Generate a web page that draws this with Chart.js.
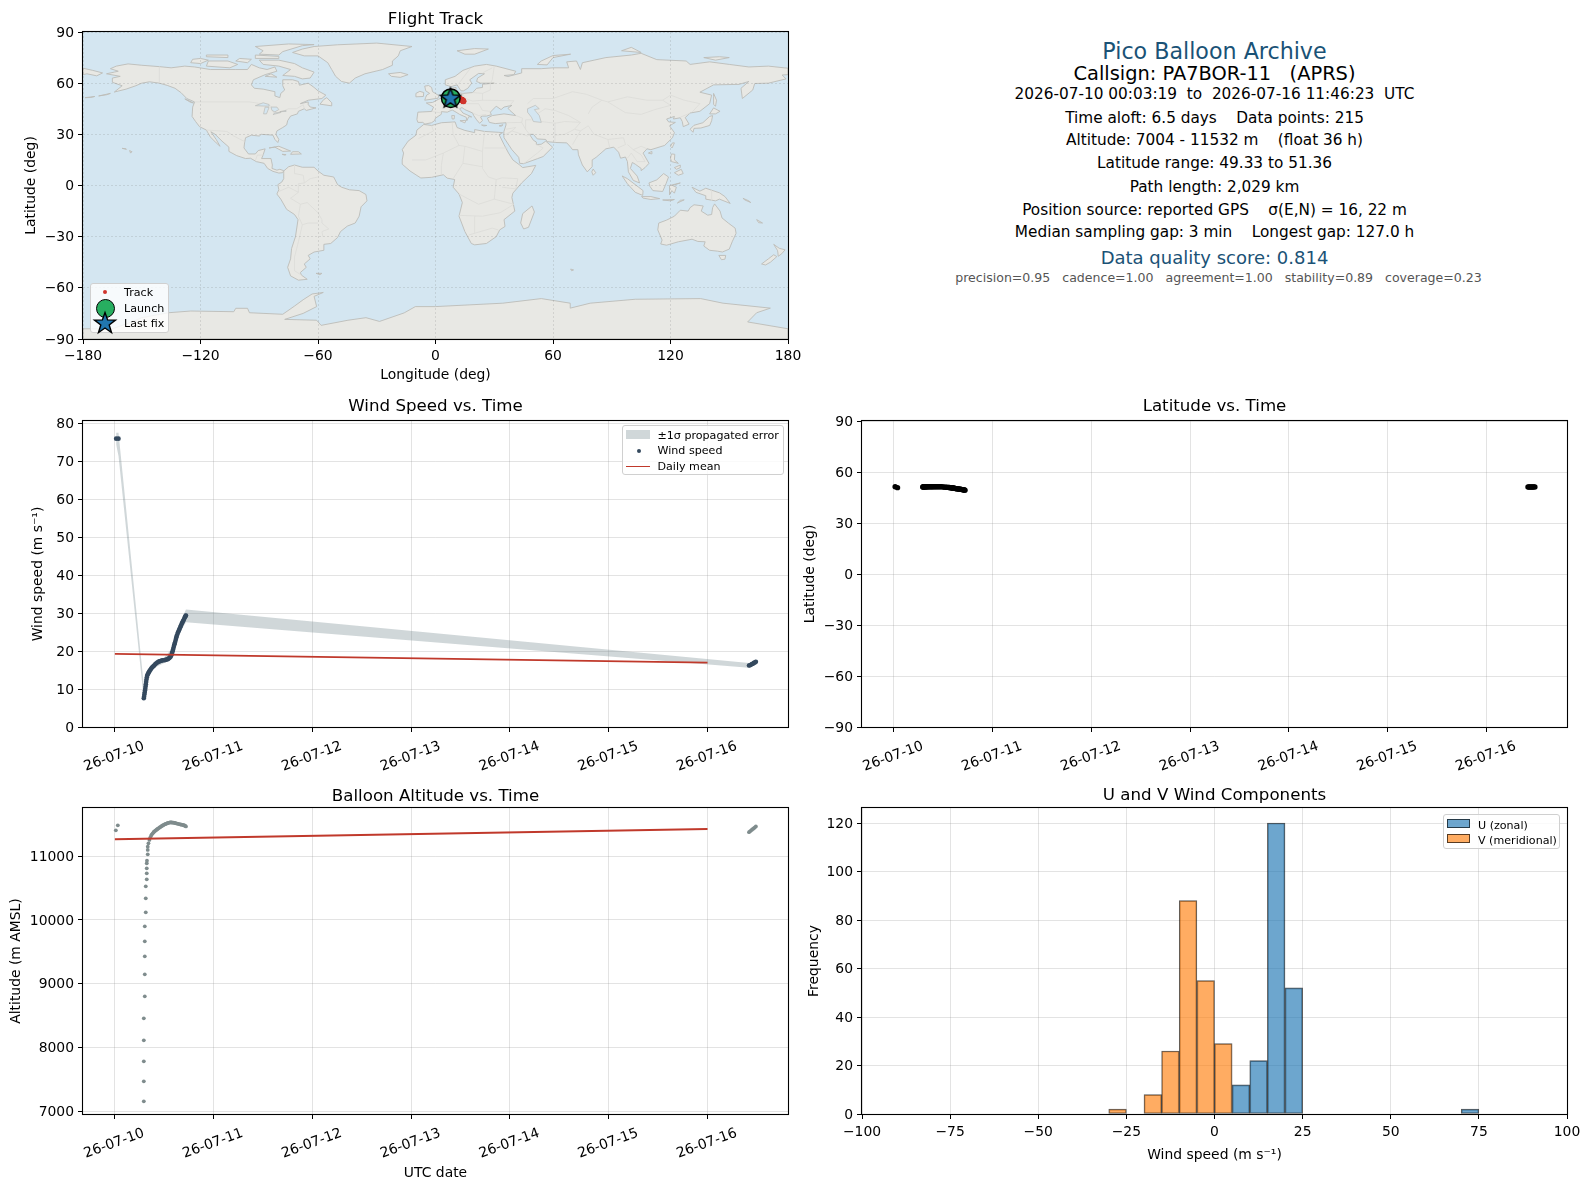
<!DOCTYPE html>
<html>
<head>
<meta charset="utf-8">
<title>Pico Balloon Archive</title>
<script src="https://cdn.jsdelivr.net/npm/chart.js@4"></script>
<style>
  html, body { margin: 0; padding: 0; background: #fff; }
  body { position: relative; width: 1589px; height: 1189px; overflow: hidden; font-family: "DejaVu Sans", sans-serif; }
  canvas { position: absolute; }
  .info { position: absolute; left: 862px; width: 705px; text-align: center; white-space: pre; transform: translateY(-50%); color: #000; }
  .legend { position: absolute; background: rgba(255,255,255,.8); border: 1px solid #d0d0d0; border-radius: 3px; box-sizing: border-box; font-size: 11.1px; color: #000; }
  .legend span { position: absolute; white-space: pre; transform: translateY(-50%); }
  .legend i, .legend svg { position: absolute; display: block; box-sizing: border-box; }
</style>
</head>
<body>
<canvas id="c-map" style="left:0;top:8px" width="822" height="381"></canvas>
<canvas id="c-wind" style="left:0;top:397px" width="822" height="400"></canvas>
<canvas id="c-lat" style="left:800px;top:397px" width="789" height="400"></canvas>
<canvas id="c-alt" style="left:0;top:784px" width="822" height="400"></canvas>
<canvas id="c-hist" style="left:800px;top:784px" width="789" height="380"></canvas>
<div id="overlay"></div>
<script>
// ---- text panel
const infoLines = [
  'Pico Balloon Archive',
  'Callsign: PA7BOR-11   (APRS)',
  '2026-07-10 00:03:19  to  2026-07-16 11:46:23  UTC',
  'Time aloft: 6.5 days    Data points: 215',
  'Altitude: 7004 - 11532 m    (float 36 h)',
  'Latitude range: 49.33 to 51.36',
  'Path length: 2,029 km',
  'Position source: reported GPS    σ(E,N) = 16, 22 m',
  'Median sampling gap: 3 min    Longest gap: 127.0 h',
  'Data quality score: 0.814',
  'precision=0.95   cadence=1.00   agreement=1.00   stability=0.89   coverage=0.23',
]

// ---- time axis
const dayLabels = ['26-07-10', '26-07-11', '26-07-12', '26-07-13', '26-07-14', '26-07-15', '26-07-16']

// ---- wind speed (days since 26-07-10 00:00 UTC)
const fixDays = [
  0.013, 0.037,
  .293, .296, .299, .302, .305, .308, .311, .314, .317, .320,
  .324, .328, .333, .339, .345, .352, .360, .368, .376, .384,
  .392, .400, .410, .420, .430, .440, .451, .462, .473, .485,
  .500, .512, .524, .536, .548, .556, .563, .569, .575, .579,
  .584, .589, .594, .599, .603, .608, .613, .618, .622, .626,
  .632, .638, .644, .650, .656, .662, .668, .674, .680, .686,
  .692, .698, .704, .710, .716, .720,
  6.42, 6.43, 6.44, 6.45, 6.46, 6.47, 6.48, 6.49,
]
const windSpeeds = [
  76.05, 76.05,
  7.6, 8.0, 8.6, 9.1, 9.6, 10.1, 10.7, 11.3, 11.9, 12.5,
  13.1, 13.6, 13.9, 14.2, 14.5, 14.8, 15.1, 15.4, 15.7, 15.9,
  16.1, 16.3, 16.6, 16.8, 17.0, 17.2, 17.3, 17.4, 17.5, 17.6,
  17.6, 17.7, 17.8, 17.9, 18.1, 18.3, 18.5, 18.8, 19.1, 19.5,
  19.9, 20.4, 20.9, 21.4, 21.8, 22.2, 22.7, 23.2, 23.6, 24.0,
  24.4, 24.9, 25.2, 25.6, 25.9, 26.3, 26.7, 27.0, 27.4, 27.7,
  28.0, 28.3, 28.7, 29.0, 29.3, 29.4,
  16.2, 16.3, 16.4, 16.6, 16.7, 16.9, 17.0, 17.2,
]
const bandDays = [0.013, 0.037, .293, .33, .40, .50, .58, .65, .72, 6.42, 6.49]
const bandUpper = [77.6, 77.6, 11.0, 15.0, 17.0, 18.3, 20.8, 27.0, 31.0, 16.9, 17.9]
const bandLower = [74.5, 71.5, 7.4, 13.0, 15.6, 16.9, 18.0, 24.5, 27.6, 15.6, 16.6]
const meanDays = [0, 6]
const meanWind = [19.3, 17.0]

// ---- latitude and longitude, same fixes as fixDays
const fixLats = [
  51.3, 50.8,
  51.2, 51.2, 51.25, 51.3, 51.3, 51.3, 51.3, 51.3, 51.3, 51.3,
  51.3, 51.36, 51.36, 51.36, 51.36, 51.36, 51.36, 51.36, 51.36, 51.36,
  51.36, 51.36, 51.35, 51.35, 51.35, 51.34, 51.34, 51.33, 51.32, 51.3,
  51.2, 51.1, 51.05, 51.0, 50.95, 50.9, 50.85, 50.8, 50.8, 50.75,
  50.7, 50.65, 50.6, 50.55, 50.5, 50.45, 50.4, 50.35, 50.3, 50.25,
  50.2, 50.15, 50.1, 50.05, 50.0, 49.95, 49.9, 49.85, 49.8, 49.7,
  49.65, 49.6, 49.5, 49.45, 49.38, 49.33,
  51.2, 51.2, 51.2, 51.22, 51.22, 51.22, 51.24, 51.24,
]
const fixLons = [
  7.6, 7.9,
  8.0, 8.0, 8.1, 8.2, 8.2, 8.3, 8.3, 8.4, 8.5, 8.5,
  8.6, 8.7, 8.8, 8.9, 9.0, 9.1, 9.2, 9.3, 9.4, 9.5,
  9.6, 9.7, 9.9, 10.0, 10.2, 10.3, 10.5, 10.7, 10.9, 11.1,
  11.3, 11.5, 11.7, 11.8, 12.0, 12.1, 12.2, 12.3, 12.4, 12.5,
  12.6, 12.7, 12.8, 12.9, 13.0, 13.1, 13.2, 13.3, 13.4, 13.4,
  13.5, 13.6, 13.7, 13.7, 13.8, 13.8, 13.9, 13.9, 14.0, 14.0,
  14.1, 14.1, 14.2, 14.2, 14.3, 14.3,
  7.3, 7.3, 7.4, 7.4, 7.4, 7.5, 7.5, 7.5,
]
const launchFix = [7.8, 51.2]
const lastFix = [7.6, 51.3]

// ---- altitude
const altDays = [
  0.010, 0.030,
  .293, .293, .293, .293, .293, .303, .303, .303, .303, .303,
  .313, .313, .313, .323, .323, .323, .323, .325, .333, .333,
  .333, .340, .350, .358, .367, .375, .384, .392, .400, .410,
  .418, .425, .433, .441, .450, .458, .467, .475, .483, .492,
  .500, .508, .516, .524, .532, .540, .552, .560, .568, .576,
  .586, .595, .605, .612, .620, .630, .640, .653, .665, .676,
  .687, .697, .705, .712, .720,
  6.42, 6.43, 6.44, 6.45, 6.46, 6.47, 6.48, 6.49,
]
const altMeters = [
  11408, 11487,
  7152, 7466, 7780, 8110, 8455, 8801, 9146, 9429, 9665, 9900,
  10120, 10340, 10529, 10639, 10733, 10812, 10890, 10932, 11031, 11100,
  11152, 11204, 11257, 11295, 11325, 11345, 11361, 11378, 11390, 11403,
  11412, 11421, 11431, 11440, 11450, 11458, 11467, 11476, 11484, 11491,
  11498, 11505, 11510, 11515, 11520, 11525, 11530, 11532, 11532, 11531,
  11530, 11528, 11525, 11522, 11518, 11514, 11510, 11505, 11500, 11497,
  11494, 11490, 11484, 11478, 11470,
  11380, 11392, 11405, 11418, 11430, 11442, 11456, 11470,
]
const altTicks = [7000, 8000, 9000, 10000, 11000]
const meanAlt = [11270, 11430]

// ---- histogram
const uBins = [7.5, 12.5, 17.5, 22.5, 72.5]
const uCounts = [12, 22, 120, 52, 2]
const vBins = [-27.5, -17.5, -12.5, -7.5, -2.5, 2.5]
const vCounts = [2, 8, 26, 88, 55, 29]

// ---- map outlines (lon, lat)
const landNorthAmerica = [[-168,65.5],[-164,66.5],[-162,67],[-166,68.5],[-163,70],[-157,71.3],[-150,70.5],[-141,69.7],[-135,69],[-128,70],[-123,69.5],[-115,68],[-108,68],[-102,68],[-96,68],[-94,71],[-90,69],[-86,68],[-82,69.5],[-81,67],[-87,65],[-93,62],[-94,59],[-92.5,57],[-88,56.5],[-82,55],[-82,52.5],[-79.5,51.5],[-79,54],[-77,56],[-78,58.5],[-78,62],[-73,62],[-70,61],[-69.5,58.8],[-65,60],[-62,57.5],[-60,55.5],[-56,53],[-58,51],[-65,50],[-69,48],[-65,49],[-65,47.5],[-64,46],[-61,45.5],[-66,44],[-67,45],[-70,43.5],[-70.5,42],[-74,40.7],[-75.5,38],[-76,35.5],[-78,34],[-81,32],[-81.5,30],[-80,27],[-80.5,25.2],[-82,27],[-83,29.5],[-85,29.7],[-89,30],[-90,29],[-94,29.5],[-97,28],[-97.5,25],[-97.8,22],[-95.5,18.5],[-92,18.5],[-90.5,20.5],[-87,21.5],[-88,18],[-88.8,15.8],[-84,15.8],[-83.3,12],[-83.5,10],[-81,9],[-79.5,9.5],[-77.5,8.7],[-78,7.5],[-80,7.3],[-83,8.3],[-85.7,10],[-87.5,13],[-91.5,14],[-94.5,16],[-97,15.8],[-101.5,17.5],[-105.5,20],[-105.5,22.5],[-109,26],[-112.5,30],[-114.7,31.5],[-112,27],[-110,23],[-112,25],[-115,28.5],[-117,32.5],[-120.5,34.5],[-122.5,37.5],[-124.3,40.5],[-124,46],[-123,49],[-127,51],[-130,54.5],[-133,57],[-137,58.7],[-141,60],[-146,60.8],[-150,60],[-153,58.5],[-158,56.5],[-164,54.8],[-160,58.5],[-165,60.5],[-165,63],[-161,64]]
const landGreenland = [[-73,78],[-67,76],[-60,76],[-55,72],[-53,68],[-51,64],[-48,61],[-44,60],[-41,63],[-36,65.5],[-27,68],[-22,70.5],[-22,73],[-19,76],[-18,79],[-12,81.5],[-30,83.5],[-50,82.5],[-62,81.5],[-68,80]]
const landSouthAmerica = [[-77.5,8.5],[-75,11],[-72,12],[-68,10.7],[-62,10.7],[-60,8.5],[-57,6],[-52,5],[-50,0.5],[-48,-1],[-44,-2.5],[-39,-3],[-35.5,-5.3],[-35,-9],[-38,-12.5],[-39,-18],[-41,-22],[-45,-23.8],[-48.5,-27],[-50,-30.5],[-53.5,-34],[-57,-34.5],[-57,-38],[-62,-39],[-65,-41],[-64,-43],[-67,-46],[-66,-48],[-69,-51],[-68.5,-52.5],[-65.5,-55],[-70,-55.5],[-74,-53],[-75.5,-48],[-74,-43],[-73.5,-37],[-71.5,-30],[-70.2,-20],[-72,-17],[-76,-14],[-79,-8],[-81,-5],[-80,-2.5],[-80.5,0.5],[-78.5,2],[-77.5,4],[-77.5,7]]
const landAfrica = [[-6,35.8],[-2,35.2],[3,36.8],[10,37.3],[11,34],[15,32.3],[20,31],[20,32.8],[25,31.7],[32,31.2],[34.3,31],[32.5,29.8],[35,24],[37.3,19],[39.5,15],[43,12],[44.5,10.5],[51.2,11.8],[49,7],[44,1.5],[39.5,-4.5],[39,-7],[40.5,-15],[35,-20],[35.5,-24],[32.8,-26],[31,-30],[26,-34],[20,-34.8],[18.3,-34],[15,-27],[12,-18],[13.7,-10],[12,-5],[9,-1],[9.8,3.5],[6,4.3],[4,6.3],[-2,4.8],[-7.5,4.4],[-13,8.5],[-17,12.5],[-17,15],[-16.3,19],[-17,21],[-14,26],[-10,29.5],[-9.5,32.5]]
const landEurasia = [[-9.5,38.7],[-9,43],[-2,43.4],[-1,46],[-4.7,48.4],[-1.5,48.7],[1.5,50.5],[4,52],[7,53.5],[8.5,55],[8.2,57],[10.5,57.5],[10.5,54.5],[14,54],[19,54.5],[21,57],[24,57.5],[24,59.4],[30,60],[23,60],[21,61],[21.5,63],[25,65.5],[22,65.7],[17.5,62],[18.5,60],[16.5,57],[14.3,55.5],[13,55.5],[11,59],[8,58],[5,59],[5,62],[10,64],[14,67.5],[20,70],[26,71],[31,70],[41,67],[40,65],[35,64.5],[37,63.9],[40,64.8],[44,66],[44,68.5],[54,68.5],[60,69],[68,69],[67,72.5],[72,73],[74,68],[75,72],[81,73.5],[87,75],[100,76.5],[105,77.5],[113,73.8],[128,73],[130,71],[140,72.5],[150,71],[160,69.5],[170,70],[178,69],[180,68.8],[180,65],[177,64.8],[179,62.5],[170,60],[163,59.8],[162,56],[156.7,51],[156,57],[160,61],[155,59.3],[142,59],[135,54.7],[141,53],[140,48],[135,43.5],[130,42.5],[127.5,39.8],[129.5,36],[126.5,34.5],[126,37.5],[125,39.7],[121.5,39],[122,40.5],[118,39],[119,37.3],[122.5,37],[119.5,35],[122,31],[121,28],[117,23.5],[110,21],[108,21.5],[106,19],[109,13],[107,10.5],[105,8.7],[105,10],[102,12.5],[100.5,13.5],[99.5,10],[103,5.5],[104.2,1.5],[101,3],[98.5,8],[98,14],[97,16.7],[94.5,16],[93.5,19.5],[91,22.5],[87,21.5],[82,16.5],[80,15],[80,11],[77.5,8],[75,12],[73,18],[72.7,21],[70,21],[69,22.5],[67,25],[61.5,25.2],[57,25.7],[56.3,27],[52,27.3],[50,30],[48,30],[50,26.5],[51.5,25.5],[51.5,24],[54,24.2],[56.3,26],[59.8,22.5],[55,17],[52,15.7],[45,12.8],[43,13],[42.5,16.5],[39,21],[35,28],[34.9,29.5],[34.9,31.5],[36,35.5],[36,36.8],[30.5,36.3],[27.5,37],[26.5,39.5],[29,41],[35,42],[41,41],[38,44],[37,45.3],[39,47],[35,46],[33.5,44.5],[31,46.5],[28,43],[28.5,41.5],[26,40.7],[24,40.7],[23,40.2],[24,38],[22.5,36.5],[21,38.5],[19.5,41],[19,42.5],[15,44.5],[13.5,45.7],[12.3,45],[14,42.5],[18.5,40.2],[17,40.4],[16,38],[15.7,40],[12.3,41.7],[10.5,43],[8.5,44.3],[6,43],[3,43.3],[3,41.8],[0,39.5],[-0.5,38],[-2,36.8],[-5.4,36],[-6.5,37],[-9,37]]
const landChukotkaWest = [[-180,68.8],[-175,67.5],[-170,66],[-173,64.3],[-178,65.5],[-180,65]]
const landAustralia = [[114,-22],[113.5,-26],[115.7,-32],[115,-34.3],[118,-35],[124,-33],[131,-31.5],[134,-32.8],[137.7,-33],[137,-35.5],[140,-38],[144,-38.5],[146.5,-39],[150,-37.3],[151.5,-33],[153.5,-28],[153,-25],[149.5,-22],[146.3,-19],[145.3,-15],[142.5,-10.8],[141.5,-13],[141,-17],[139,-17.4],[135.7,-15],[136.7,-12],[132,-11.3],[130,-13],[129,-15],[125,-14.5],[122,-18],[118,-20.3]]
const landAntarctica = [[-180,-84],[-165,-84],[-155,-80],[-150,-77.5],[-136.4,-74.6],[-125,-73.6],[-103,-74],[-102,-72],[-96,-72],[-95,-74.6],[-78,-75.5],[-72,-70.7],[-67.6,-67],[-63,-63.6],[-57.3,-62.7],[-62,-65],[-60.7,-71],[-67.6,-75],[-77,-78.5],[-60.7,-79],[-58.4,-82],[-44.7,-79],[-35.5,-77.5],[-28.6,-79.7],[-16,-74.7],[-10.3,-71],[0,-71],[17.2,-70],[34.4,-69],[54,-66.3],[68.8,-69],[68.8,-71.9],[79,-69],[102,-66.7],[135.4,-66.3],[146.8,-69],[171,-71.9],[164,-74.6],[159.4,-80],[180,-84],[180,-90],[-180,-90]]
const landIslands = [
  [[-80,73.5],[-72,71.5],[-68,69],[-62,66.5],[-64,63],[-68,62.5],[-72,64],[-78,64.5],[-74,68],[-80,70],[-88,71],[-90,73.5]],
  [[-117,70],[-105,69],[-101,71],[-106,73],[-116,73]],
  [[-125,72],[-120,71.5],[-116,73.5],[-120,74.5],[-124,74]],
  [[-90,77],[-80,76.5],[-78,78.5],[-68,82],[-62,82.6],[-75,83],[-92,81.5],[-88,79]],
  [[-92,74.5],[-80,74.5],[-80,75.7],[-92,76.5]],
  [[-102,73],[-96,72],[-94,74],[-100,74.5]],
  [[-117,75.5],[-106,75],[-106,76.5],[-117,76.5]],
  [[-87,64],[-81,63.5],[-84,65.5]],
  [[-59,47.7],[-53,46.7],[-53,48.5],[-55.5,51.5],[-57,50.5]],
  [[-128,50.8],[-123.5,48.4],[-125,48.7]],
  [[-85,22],[-80,23],[-74,20.2],[-78,20],[-82,22.5]],
  [[-74,18.3],[-68.5,18.5],[-70,19.8],[-73,19.8]],
  [[-78.3,18.3],[-76.3,18.1],[-77,17.8]],
  [[-156.2,20.5],[-155,19.8],[-155.7,19]],
  [[-160,21.8],[-158,21.5],[-157.8,21.2],[-159,21.5]],
  [[-61,-51.5],[-58,-51.5],[-59,-52.3]],
  [[49.3,-12],[50.5,-15.5],[47.5,-24.5],[45,-25.5],[43.5,-22],[44.5,-16.5]],
  [[-5.5,50],[1.3,51.2],[1.7,52.7],[-1.5,55],[-2,57.5],[-3.5,58.6],[-5.5,58.3],[-5,55.5],[-3,54],[-4.5,53],[-5,51.7]],
  [[-10,52],[-6.2,52.2],[-6,54.5],[-8,55.2],[-10,54]],
  [[-24,65.5],[-18,66.3],[-14,65],[-18,63.4],[-22.5,64]],
  [[11,79],[20,80.3],[27,80],[20,77],[15,77]],
  [[52,71],[57,70.7],[60,75],[69,77],[60,76.2],[54,73]],
  [[95,79],[105,78],[100,81]],
  [[137,75],[145,75.5],[150,75],[143,73.5]],
  [[142,54],[143.5,50],[143,46.5],[142,47.5],[142,52]],
  [[130,33],[131.5,31.2],[132,33.5],[135.5,33.7],[140,35.2],[141,38],[141.5,41],[140,40.5],[136.5,36.8],[132,35.3]],
  [[140,42],[142,45.5],[145.3,43.5],[143,42]],
  [[120,23],[121,25],[122,25],[120.8,22]],
  [[108.7,19],[110.5,20],[110.5,18.5]],
  [[120,16],[120.5,18.5],[122.2,18.3],[122,15],[124,13],[120.5,14]],
  [[122,7.5],[125.5,9.5],[126.5,7],[124,6]],
  [[122,10.5],[125,12],[125,10.5],[123,9.5]],
  [[109,1.5],[113,3.3],[116.5,7],[119,5],[117.7,1],[116,-3.5],[111,-3],[109.5,-0.5]],
  [[95.3,5.6],[98,4],[103.5,-0.8],[106,-3],[105.8,-5.8],[102,-4],[98,1]],
  [[105.2,-6.5],[110,-6.5],[114.5,-7.7],[110,-8.2],[106,-7.4]],
  [[119.5,-5.5],[119.5,0],[125,1.5],[121,0],[123,-1],[122,-4.5],[120.7,-3]],
  [[131,-1],[135,-3.3],[138,-1.6],[145,-4.3],[147.8,-6.5],[150.5,-10.5],[145,-8],[143,-9],[138,-8],[138,-6],[133,-4]],
  [[123.5,-10.3],[127,-8.4],[125,-8.7]],
  [[116,-8.5],[122,-8.2],[120,-9]],
  [[79.8,8],[80.5,9.7],[81.8,7.5],[80.5,6]],
  [[144.7,-41],[148.2,-41],[147.8,-43.2],[146,-43.5]],
  [[172.7,-34.5],[175.5,-36.8],[178.5,-37.7],[176.8,-40],[175,-41.5],[174.8,-39],[174.6,-38]],
  [[172.7,-40.6],[174.3,-41.7],[171,-45],[168.5,-46.6],[166.5,-46],[170,-43]],
  [[164,-20],[167,-22],[165,-21.8]],
  [[157,-7.5],[160,-9],[161,-10],[158,-8.5]],
  [[69,-49],[70.5,-49.5],[69.5,-50]],
  [[12.5,38],[15.5,38.2],[15,36.7]],
  [[8.3,41],[9.7,41],[9.5,39],[8.5,39]],
  [[23.5,35.5],[26.2,35.2],[24.7,34.9]],
  [[32.5,35],[34.5,35.6],[33.5,34.7]],
  [[-172,52.5],[-166,54],[-168,53.2]],
  [[-179,51.5],[-174,52.2],[-176,51.6]],
]
const waterBodies = [
  [[47,45],[51,47],[53,45],[50.5,44.5],[53,41],[54,37],[50,37.5],[49,40],[47,43]],
  [[-92,46.8],[-88,48.5],[-85,47.5],[-85,46.5],[-88,46.6]],
  [[-87.8,42],[-87,46],[-85,45.7],[-86.3,42]],
  [[-84,46],[-81,46],[-80,44.5],[-82,43.2],[-83.5,44]],
  [[-83,41.6],[-79,42.8],[-79,43],[-82,42.5]],
  [[-79.5,43.3],[-76.3,44],[-76.3,43.4]],
]
const borderLines = [
  [[-141,69.7],[-141,60]],
  [[-123,49],[-95,49],[-89,48],[-84,46.5],[-82.5,42.5],[-79,43],[-75,45],[-71,45],[-67.5,47.3],[-67,45]],
  [[-117,32.5],[-106.5,31.7],[-103,29],[-97.5,25.8]],
  [[-92,14.5],[-91,17.8],[-89,17.8],[-88,18]],
  [[-70,-18],[-69,-11],[-74,-7.5],[-70,-4],[-70,1],[-67,1.5],[-64,4],[-60,5]],
  [[-57.5,-30],[-58,-27],[-54.5,-25.5],[-58,-22],[-58,-20],[-60,-16],[-65.5,-10],[-69,-11]],
  [[-70,-18],[-68,-23],[-70,-33],[-72,-42],[-72,-50],[-68.5,-52.5]],
  [[-72,12],[-72,7],[-67.5,6],[-67,1.5]],
  [[-80,-3.5],[-75,-1],[-70,-4]],
  [[-60,-22],[-65,-22],[-68,-23]],
  [[-8.7,27.5],[-1,32],[-2,35]],
  [[8.5,37],[9,30],[12,23.5],[15,23],[24,20],[25,31.7]],
  [[25,22],[37,22]],
  [[24,20],[24,10],[27,5],[31,3.5],[34,4.5],[42,4],[41,-2]],
  [[-12,15],[-5,15],[4,19],[12,23.5]],
  [[4,19],[3,12],[3,6.3]],
  [[14,13],[24,11]],
  [[14,13],[9,4]],
  [[14,13],[15,23]],
  [[12,-5],[22,-11],[30,-8],[31,3.5]],
  [[12,-17.5],[24,-18],[33,-16],[40,-11]],
  [[30,-8],[40,-11]],
  [[20,-28],[20,-18]],
  [[17,-29],[29,-25],[32,-26]],
  [[34,-1],[41,-2]],
  [[-1.8,43.4],[3,42.5]],
  [[2.5,51],[8,49],[7,47.5],[7.5,44]],
  [[7,53.5],[6,50],[8,49]],
  [[14,54],[15,51],[12.5,50],[13,47.5],[7.5,47.5]],
  [[13,47.5],[17,48],[22,48],[24,44],[28,43.5]],
  [[15,51],[19,49.5],[24,50],[24,54],[19,54.5]],
  [[24,54],[28,56],[28,60]],
  [[24,50],[40,49.7],[38,47]],
  [[30,70],[29,62],[28,60]],
  [[24,66],[29,69]],
  [[18,69],[12,60],[11,59]],
  [[22,41],[26,41.7]],
  [[19,42.5],[22,41]],
  [[36,36.8],[44,37],[44.5,39.5],[41,41]],
  [[44,37],[46,33],[48,30]],
  [[36,33],[41,34],[39,32],[34.9,29.5]],
  [[39,32],[47,29],[48,30]],
  [[46,33],[46,38.5]],
  [[61,37],[61,25.2]],
  [[46,38.5],[49,38.5]],
  [[54,37.5],[61,36.5],[66,37.5],[74,37],[71,33],[66,30],[61,29.5]],
  [[71,33],[74,32],[70,24]],
  [[74,32],[78,35],[81,30],[88,27],[96,28],[97,24],[93,22]],
  [[88,27],[89,22]],
  [[78,42],[80,46],[85,50],[88,49],[98,52],[108,50],[116,50],[120,53],[127,50],[135,48],[131,43]],
  [[88,49],[97,42.7],[105,41.7],[112,44.5],[120,47],[116,50]],
  [[52,42],[56,45],[61,44],[68,41],[74,37]],
  [[50,51],[60,51],[70,55],[77,53.5],[85,50]],
  [[47,48],[50,51]],
  [[98,24],[101,21],[105,23],[108,21.5]],
  [[101,21],[105,18],[107,14],[103,14],[100,19],[98,16]],
  [[125,40],[130,42.5]],
  [[141,-2.6],[141,-9]],
  [[45,12.8],[52,19],[55,22],[51.5,24]],
  [[36,29.5],[39,32]],
]

const TICK = 13.9
const NAVY = '#1a5276'
const OCEAN = '#d4e6f1'
const LAND = '#e8e8e4'
const GRID = 'rgba(150,150,150,.27)'
const WIND_DOT = '#34495e'

Chart.defaults.font.family = '"DejaVu Sans", sans-serif'
Chart.defaults.font.size = TICK
Chart.defaults.color = '#000'
Chart.defaults.animation = false

// black frame round the plot
Chart.register({
  id: 'frame',
  afterDraw(chart) {
    const a = chart.chartArea, ctx = chart.ctx
    ctx.save()
    ctx.strokeStyle = '#000'
    ctx.lineWidth = 1.1
    ctx.strokeRect(a.left - .5, a.top - .5, a.width + 1, a.height + 1)
    ctx.restore()
  },
})

// sea, land and borders go under the track, projected through the chart's own scales
const basemap = {
  id: 'basemap',
  beforeDatasetsDraw(chart) {
    const { ctx, chartArea: a, scales: { x, y } } = chart
    const trace = line => {
      ctx.beginPath()
      line.forEach((p, i) => {
        const px = x.getPixelForValue(p[0]), py = y.getPixelForValue(p[1])
        if (i) ctx.lineTo(px, py); else ctx.moveTo(px, py)
      })
    }
    ctx.save()
    ctx.beginPath()
    ctx.rect(a.left, a.top, a.width, a.height)
    ctx.clip()
    ctx.fillStyle = OCEAN
    ctx.fillRect(a.left, a.top, a.width, a.height)
    ctx.lineJoin = 'round'
    ctx.strokeStyle = '#bcbcb8'
    ctx.lineWidth = .9
    ;[landAntarctica, landNorthAmerica, landGreenland, landSouthAmerica, landAfrica, landEurasia, landChukotkaWest, landAustralia, ...landIslands].forEach(l => {
      trace(l)
      ctx.closePath()
      ctx.fillStyle = LAND
      ctx.fill()
      ctx.stroke()
    })
    ctx.strokeStyle = '#dcdcd8'
    ctx.lineWidth = .8
    borderLines.forEach(l => { trace(l); ctx.stroke() })
    ctx.strokeStyle = '#bcbcb8'
    ctx.lineWidth = .7
    waterBodies.forEach(l => {
      trace(l)
      ctx.closePath()
      ctx.fillStyle = OCEAN
      ctx.fill()
      ctx.stroke()
    })
    ctx.restore()
  },
}

function pts(xs, ys) { return xs.map((x, i) => ({ x, y: ys[i] })) }
function minus(v) { return String(v).replace('-', '−') }

const titleFont = { size: 16.67, weight: 'normal' }

function yAxis(width, titlePad, label, extra) {
  return Object.assign({
    position: 'left',
    afterFit: s => { s.width = width; s.paddingTop = 0; s.paddingBottom = 0 },
    grid: { color: GRID, tickColor: '#000', tickLength: 5 },
    border: { display: false },
    title: { display: true, text: label, font: { size: TICK }, padding: { top: titlePad, bottom: 0 } },
  }, extra)
}
function dayAxis(label, titlePad) {
  return {
    type: 'linear', min: -0.3225, max: 6.815,
    afterFit: s => { s.height = 70; s.paddingLeft = 0; s.paddingRight = 0 },
    grid: { color: GRID, tickColor: '#000', tickLength: 5 },
    border: { display: false },
    ticks: { stepSize: 1, includeBounds: false, autoSkip: false, minRotation: 20, maxRotation: 20, labelOffset: 29, padding: 6, callback: v => dayLabels[v] },
    title: { display: !!label, text: label, font: { size: TICK }, padding: { top: 0, bottom: titlePad } },
  }
}
function makeChart(id, title, titleTop, rightPad, datasets, scales, plugins) {
  return new Chart(document.getElementById(id), {
    type: 'scatter',
    data: { datasets },
    plugins: plugins || [],
    options: {
      responsive: false,
      events: [],
      layout: { padding: { left: 0, right: rightPad, top: 0, bottom: 0 } },
      elements: { line: { tension: 0 } },
      plugins: {
        legend: { display: false },
        tooltip: { enabled: false },
        title: { display: true, text: title, fullSize: false, color: '#000', font: titleFont, padding: { top: titleTop, bottom: 4 - titleTop } },
      },
      scales,
    },
  })
}

// ---- star marker for the last fix
const starColor = '#2176ae'
const starImg = document.createElement('canvas')
starImg.width = 26; starImg.height = 26
{
  const c = starImg.getContext('2d')
  c.beginPath()
  for (let i = 0; i < 10; i++) {
    const a = -Math.PI / 2 + i * Math.PI / 5, q = i % 2 ? 4.4 : 10.5
    c.lineTo(13 + q * Math.cos(a), 13.5 + q * Math.sin(a))
  }
  c.closePath()
  c.fillStyle = starColor; c.fill()
  c.strokeStyle = '#000'; c.lineWidth = 1.4; c.stroke()
}

// ---- Flight Track
const mapGrid = { color: 'rgba(120,120,120,.2)', tickColor: '#000', tickLength: 5, z: 1 }
makeChart('c-map', 'Flight Track', 1.5, 34, [
  { data: [{ x: lastFix[0], y: lastFix[1] }], pointStyle: starImg },
  { data: [{ x: launchFix[0], y: launchFix[1] }], pointRadius: 9.3, pointBackgroundColor: '#27ae60', pointBorderColor: '#000', pointBorderWidth: 1.5 },
  { data: pts(fixLons, fixLats), pointRadius: 2.8, pointBackgroundColor: '#d0342c', pointBorderWidth: 0 },
], {
  x: {
    type: 'linear', min: -180, max: 180,
    afterFit: s => { s.height = 50; s.paddingLeft = 0; s.paddingRight = 0 },
    grid: mapGrid, border: { display: false, dash: [2, 2] },
    ticks: { stepSize: 60, padding: 4, maxRotation: 0, callback: minus },
    title: { display: true, text: 'Longitude (deg)', font: { size: TICK }, padding: { top: 0, bottom: 5.5 } },
  },
  y: yAxis(83, 23, 'Latitude (deg)', {
    min: -90, max: 90,
    grid: mapGrid, border: { display: false, dash: [2, 2] },
    ticks: { stepSize: 30, padding: 4, labelOffset: 1, callback: minus },
  }),
}, [basemap])

// ---- Wind Speed vs. Time
makeChart('c-wind', 'Wind Speed vs. Time', 0, 34, [
  { data: pts(meanDays, meanWind), showLine: true, pointRadius: 0, borderColor: '#c0392b', borderWidth: 1.8 },
  { data: pts(fixDays, windSpeeds), pointRadius: 2.3, pointBackgroundColor: WIND_DOT, pointBorderWidth: 0 },
  { data: pts(bandDays, bandLower), showLine: true, pointRadius: 0, borderWidth: 0, borderColor: 'transparent', backgroundColor: 'rgba(112,135,140,.33)', fill: '+1' },
  { data: pts(bandDays, bandUpper), showLine: true, pointRadius: 0, borderWidth: 0, borderColor: 'transparent' },
], {
  x: dayAxis('', 0),
  y: yAxis(83, 30, 'Wind speed (m s⁻¹)', { min: 0, max: 80.7, ticks: { stepSize: 10, includeBounds: false, padding: 4, labelOffset: 1 } }),
})

// ---- Latitude vs. Time
makeChart('c-lat', 'Latitude vs. Time', 0, 22, [
  { data: pts(fixDays, fixLats), pointRadius: 2.7, pointBackgroundColor: '#000', pointBorderWidth: 0 },
], {
  x: dayAxis('', 0),
  y: yAxis(62, 2.4, 'Latitude (deg)', { min: -90, max: 90, ticks: { stepSize: 30, padding: 4, labelOffset: 1, callback: minus } }),
})

// ---- Balloon Altitude vs. Time
makeChart('c-alt', 'Balloon Altitude vs. Time', 2.5, 34, [
  { data: pts(meanDays, meanAlt), showLine: true, pointRadius: 0, borderColor: '#c0392b', borderWidth: 2 },
  { data: pts(altDays, altMeters), pointRadius: 1.9, pointBackgroundColor: '#7f8c8d', pointBorderWidth: 0 },
], {
  x: dayAxis('UTC date', 2.5),
  y: yAxis(83, 8, 'Altitude (m AMSL)', {
    min: 6953, max: 11759,
    afterBuildTicks: s => { s.ticks = altTicks.map(value => ({ value })) },
    ticks: { padding: 4, labelOffset: 1, callback: v => String(v) },
  }),
})

// ---- U and V Wind Components
new Chart(document.getElementById('c-hist'), {
  type: 'bar',
  data: {
    datasets: [
      { data: pts(uBins, uCounts), backgroundColor: 'rgba(31,119,180,.65)', borderColor: 'rgba(0,0,0,.65)', borderWidth: 1, borderSkipped: false, grouped: false, barPercentage: 1, categoryPercentage: 1 },
      { data: pts(vBins, vCounts), backgroundColor: 'rgba(255,127,14,.65)', borderColor: 'rgba(0,0,0,.65)', borderWidth: 1, borderSkipped: false, grouped: false, barPercentage: 1, categoryPercentage: 1 },
    ],
  },
  options: {
    responsive: false,
    events: [],
    layout: { padding: { left: 0, right: 22, top: 0, bottom: 0 } },
    plugins: {
      legend: { display: false },
      tooltip: { enabled: false },
      title: { display: true, text: 'U and V Wind Components', fullSize: false, color: '#000', font: titleFont, padding: { top: 2, bottom: 2 } },
    },
    scales: {
      x: {
        type: 'linear', min: -100, max: 100, offset: false,
        afterFit: s => { s.height = 50; s.paddingLeft = 0; s.paddingRight = 0 },
        grid: { offset: false, color: GRID, tickColor: '#000', tickLength: 5 },
        border: { display: false },
        ticks: { stepSize: 25, padding: 5, maxRotation: 0, callback: minus },
        title: { display: true, text: 'Wind speed (m s⁻¹)', font: { size: TICK }, padding: { top: 0, bottom: 0 } },
      },
      y: yAxis(62, 6.4, 'Frequency', { min: 0, max: 126.2, ticks: { stepSize: 20, includeBounds: false, padding: 4, labelOffset: 1 } }),
    },
  },
})

// ---- text panel and legends
const infoY = [50.7, 73, 93.7, 117.5, 140, 163, 186.5, 209.5, 232, 256.5, 276.5]
const infoSize = [22.2, 19.4, 15.3, 15.3, 15.3, 15.3, 15.3, 15.3, 15.3, 18, 12.55]
const infoShift = [0, 0, 0, 0, 0, 0, 0, 0, 0, 0, 4]
const infoColor = [NAVY, '#000', '#000', '#000', '#000', '#000', '#000', '#000', '#000', NAVY, '#555']
const overlay = document.getElementById('overlay')
overlay.innerHTML = infoLines.map((t, i) =>
  `<div class="info" style="top:${infoY[i]}px;margin-left:${infoShift[i]}px;font-size:${infoSize[i]}px;color:${infoColor[i]}">${t}</div>`).join('') + `
<div class="legend" style="left:89.5px;top:283px;width:79.5px;height:50px">
  <i style="left:12.5px;top:6.3px;width:4px;height:4px;border-radius:50%;background:#d0342c"></i>
  <span style="left:33.6px;top:8.3px">Track</span>
  <i style="left:5px;top:14.8px;width:19px;height:19px;border-radius:50%;background:#27ae60;border:1.5px solid #000"></i>
  <span style="left:33.6px;top:24.3px">Launch</span>
  <svg style="left:1.5px;top:26px" width="26" height="26" viewBox="-13 -13.5 26 26"><polygon points="0,-11 2.6,-3.6 10.5,-3.4 4.2,1.4 6.5,9 0,4.5 -6.5,9 -4.2,1.4 -10.5,-3.4 -2.6,-3.6" fill="${starColor}" stroke="#000" stroke-width="1.4"/></svg>
  <span style="left:33.6px;top:39.3px">Last fix</span>
</div>
<div class="legend" style="left:622px;top:425px;width:162px;height:50px">
  <i style="left:3px;top:4px;width:24px;height:9px;background:rgba(112,135,140,.33)"></i>
  <span style="left:34.5px;top:9px">±1σ propagated error</span>
  <i style="left:13.5px;top:22.5px;width:4px;height:4px;border-radius:50%;background:${WIND_DOT}"></i>
  <span style="left:34.5px;top:24px">Wind speed</span>
  <i style="left:3px;top:39.5px;width:24px;height:1.6px;background:#c0392b"></i>
  <span style="left:34.5px;top:39.5px">Daily mean</span>
</div>
<div class="legend" style="left:1443px;top:814px;width:117px;height:35px">
  <i style="left:3px;top:4px;width:23px;height:9px;background:rgba(31,119,180,.65);border:1px solid rgba(0,0,0,.65)"></i>
  <span style="left:34px;top:9.5px">U (zonal)</span>
  <i style="left:3px;top:19px;width:23px;height:9px;background:rgba(255,127,14,.65);border:1px solid rgba(0,0,0,.65)"></i>
  <span style="left:34px;top:24.5px">V (meridional)</span>
</div>`
</script>
</body>
</html>
